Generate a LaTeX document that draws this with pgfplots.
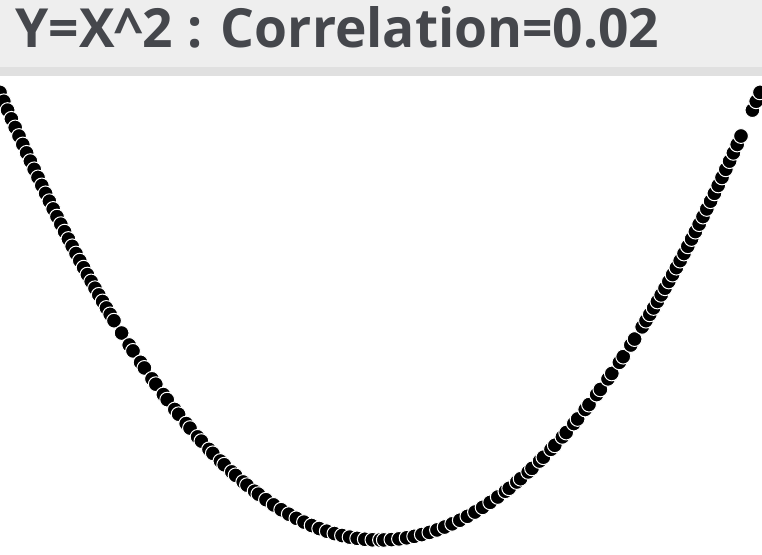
\documentclass[border=0pt]{standalone}
\usepackage{pgfplots}
\pgfplotsset{compat=1.18}
\usepackage{fontspec}
\setmainfont{Open Sans}
\newfontfamily\titlefont{Open Sans}[UprightFont=* Bold]
\definecolor{barbg}{HTML}{EEEEEE}
\definecolor{barstrip}{HTML}{E0E0E0}
\definecolor{titlecol}{HTML}{45474C}
\begin{document}
\begin{tikzpicture}[x=1pt,y=1pt]
\fill[white] (0,0) rectangle (381,277);
\fill[barbg] (0,243) rectangle (381,277);
\fill[barstrip] (0,239) rectangle (381,243.5);
\node[anchor=base west,inner sep=0pt,text=titlecol] at (7.5,253.2)
  {\resizebox{322pt}{20.5pt}{\titlefont Y=X\^{}2 : Correlation=0.02}};
\begin{axis}[at={(0,0)},anchor=south west,scale only axis,
  width=381pt,height=239pt,
  xmin=-1,xmax=1.00526,ymin=-0.0313,ymax=1.0366,
  hide axis]
\addplot[only marks,mark=*,mark size=3.7pt,
  mark options={fill=black,draw=white,line width=0.5pt}] table {
x y
-1.00 1.0000
-0.99 0.9801
-0.98 0.9604
-0.97 0.9409
-0.96 0.9216
-0.95 0.9025
-0.94 0.8836
-0.93 0.8649
-0.92 0.8464
-0.91 0.8281
-0.90 0.8100
-0.89 0.7921
-0.88 0.7744
-0.87 0.7569
-0.86 0.7396
-0.85 0.7225
-0.84 0.7056
-0.83 0.6889
-0.82 0.6724
-0.81 0.6561
-0.80 0.6400
-0.79 0.6241
-0.78 0.6084
-0.77 0.5929
-0.76 0.5776
-0.75 0.5625
-0.74 0.5476
-0.73 0.5329
-0.72 0.5184
-0.71 0.5041
-0.70 0.4900
-0.68 0.4624
-0.66 0.4356
-0.65 0.4225
-0.63 0.3969
-0.62 0.3844
-0.60 0.3600
-0.59 0.3481
-0.57 0.3249
-0.56 0.3136
-0.54 0.2916
-0.53 0.2809
-0.51 0.2601
-0.50 0.2500
-0.48 0.2304
-0.47 0.2209
-0.45 0.2025
-0.44 0.1936
-0.42 0.1764
-0.41 0.1681
-0.39 0.1521
-0.38 0.1444
-0.36 0.1296
-0.35 0.1225
-0.33 0.1089
-0.32 0.1024
-0.30 0.0900
-0.28 0.0784
-0.26 0.0676
-0.24 0.0576
-0.22 0.0484
-0.20 0.0400
-0.18 0.0324
-0.16 0.0256
-0.14 0.0196
-0.12 0.0144
-0.10 0.0100
-0.08 0.0064
-0.06 0.0036
-0.04 0.0016
-0.02 0.0004
0.00 0.0000
0.01 0.0001
0.03 0.0009
0.05 0.0025
0.07 0.0049
0.09 0.0081
0.11 0.0121
0.13 0.0169
0.15 0.0225
0.17 0.0289
0.19 0.0361
0.21 0.0441
0.23 0.0529
0.25 0.0625
0.27 0.0729
0.29 0.0841
0.31 0.0961
0.33 0.1089
0.34 0.1156
0.36 0.1296
0.37 0.1369
0.39 0.1521
0.40 0.1600
0.42 0.1764
0.43 0.1849
0.45 0.2025
0.46 0.2116
0.48 0.2304
0.49 0.2401
0.51 0.2601
0.52 0.2704
0.54 0.2916
0.55 0.3025
0.57 0.3249
0.58 0.3364
0.60 0.3600
0.61 0.3721
0.63 0.3969
0.64 0.4096
0.66 0.4356
0.67 0.4489
0.69 0.4761
0.70 0.4900
0.71 0.5041
0.72 0.5184
0.73 0.5329
0.74 0.5476
0.75 0.5625
0.76 0.5776
0.77 0.5929
0.78 0.6084
0.79 0.6241
0.80 0.6400
0.81 0.6561
0.82 0.6724
0.83 0.6889
0.84 0.7056
0.85 0.7225
0.86 0.7396
0.87 0.7569
0.88 0.7744
0.89 0.7921
0.90 0.8100
0.91 0.8281
0.92 0.8464
0.93 0.8649
0.94 0.8836
0.95 0.9025
0.98 0.9604
0.99 0.9801
1.00 1.0000
};
\end{axis}
\pgfresetboundingbox
\useasboundingbox (0,0) rectangle (381,277);
\end{tikzpicture}
\end{document}
